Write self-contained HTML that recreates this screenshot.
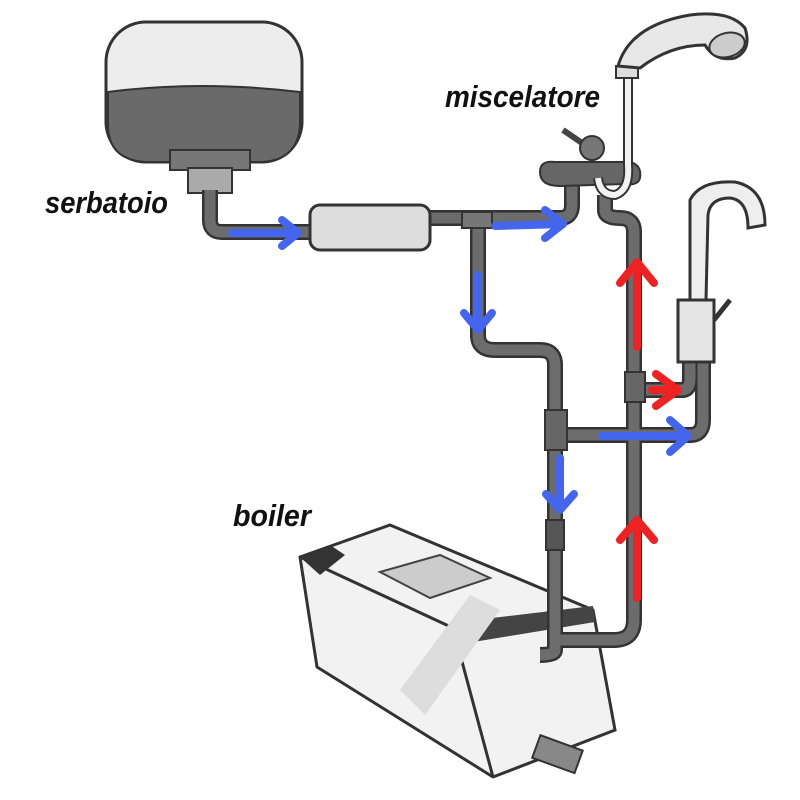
<!DOCTYPE html>
<html><head><style>
html,body{margin:0;padding:0;background:#fff;width:800px;height:800px;overflow:hidden}
.l{font-family:"Liberation Sans",sans-serif;font-style:italic;font-weight:bold;font-size:31px;fill:#111}
</style></head><body>
<svg width="800" height="800" viewBox="0 0 800 800" xmlns="http://www.w3.org/2000/svg">
<!-- tank -->
<rect x="106" y="22" width="196" height="140" rx="40" fill="#ededed" stroke="#333" stroke-width="3"/>
<path d="M108 92 Q200 80 300 92 L300 125 Q298 160 262 162 L146 162 Q108 160 108 125Z" fill="#6a6a6a" stroke="#333" stroke-width="2"/>
<rect x="170" y="150" width="80" height="20" fill="#777" stroke="#333" stroke-width="2"/>
<rect x="188" y="168" width="44" height="25" fill="#aaa" stroke="#333" stroke-width="2"/>
<!-- boiler -->
<path d="M300 557 L390 525 L593 610 L615 730 L493 777 L317 667Z" fill="#f2f2f2" stroke="#333" stroke-width="3"/>
<path d="M300 557 L453 628 L493 777 M453 628 L593 610" fill="none" stroke="#333" stroke-width="3"/>
<path d="M300 557 L330 545 L345 555 L320 575Z" fill="#333"/>
<path d="M450 623 L593 606 L595 622 L455 645Z" fill="#444"/>
<path d="M380 572 L440 555 L490 578 L430 598Z" fill="#ccc" stroke="#444" stroke-width="2"/>
<path d="M400 690 L470 595 L500 610 L425 715Z" fill="#ddd"/>
<rect x="535" y="742" width="45" height="24" fill="#888" stroke="#333" stroke-width="2" transform="rotate(20 557 754)"/>
<!-- pipes -->
<g fill="none" stroke="#333" stroke-width="16" stroke-linejoin="round" stroke-linecap="butt">
<path d="M210 190 L210 220 Q210 232 222 232 L312 232"/>
<path d="M430 218 L560 218 Q572 218 572 205 L572 180"/>
<path d="M478 218 L478 335 Q478 350 495 350 L540 350 Q555 350 555 365 L555 650 Q555 655 540 655"/>
<path d="M555 435 L690 435 Q703 435 703 420 L703 362"/>
<path d="M605 195 L605 210 Q605 218 620 218 Q634 218 634 232 L634 620 Q634 640 614 640 L560 640"/>
<path d="M634 390 L682 390 Q690 390 690 378 L690 360"/>
</g>
<g fill="none" stroke="#6c6c6c" stroke-width="11" stroke-linejoin="round">
<path d="M210 190 L210 220 Q210 232 222 232 L312 232"/>
<path d="M430 218 L560 218 Q572 218 572 205 L572 180"/>
<path d="M478 218 L478 335 Q478 350 495 350 L540 350 Q555 350 555 365 L555 650 Q555 655 540 655"/>
<path d="M555 435 L690 435 Q703 435 703 420 L703 362"/>
<path d="M605 195 L605 210 Q605 218 620 218 Q634 218 634 232 L634 620 Q634 640 614 640 L560 640"/>
<path d="M634 390 L682 390 Q690 390 690 378 L690 360"/>
</g>
<rect x="462" y="212" width="30" height="16" fill="#777" stroke="#333" stroke-width="2"/>
<rect x="545" y="410" width="22" height="40" fill="#666" stroke="#333" stroke-width="2"/>
<rect x="625" y="372" width="20" height="30" fill="#666" stroke="#333" stroke-width="2"/>
<rect x="546" y="520" width="18" height="30" fill="#555" stroke="#333" stroke-width="2"/>
<!-- filter -->
<rect x="310" y="205" width="120" height="45" rx="10" fill="#ddd" stroke="#333" stroke-width="3"/>
<!-- mixer -->
<path d="M563 130 L585 145" stroke="#444" stroke-width="6"/>
<circle cx="592" cy="148" r="12" fill="#777" stroke="#333" stroke-width="2"/>
<path d="M540 172 Q540 160 555 162 L630 162 Q642 165 640 178 Q638 186 625 184 L560 186 Q540 186 540 172Z" fill="#666" stroke="#333" stroke-width="2"/>
<path d="M598 178 Q600 195 615 195 Q630 190 628 165 L628 75" fill="none" stroke="#333" stroke-width="10"/>
<path d="M598 178 Q600 195 615 195 Q630 190 628 165 L628 75" fill="none" stroke="#f2f2f2" stroke-width="6"/>
<!-- shower -->
<rect x="616" y="66" width="22" height="12" fill="#ddd" stroke="#333" stroke-width="2"/>
<path d="M618 66 Q630 25 690 15 Q730 10 745 28 Q752 50 735 58 Q715 62 705 45 Q670 45 640 68Z" fill="#e8e8e8" stroke="#333" stroke-width="3"/>
<ellipse cx="727" cy="45" rx="18" ry="12" fill="#ccc" stroke="#333" stroke-width="2" transform="rotate(-15 727 45)"/>
<!-- kitchen faucet -->
<path d="M690 300 L690 200 Q700 180 735 182 Q765 188 765 225 L748 228 Q748 200 730 198 Q710 198 708 215 L706 300Z" fill="#eee" stroke="#333" stroke-width="3"/>
<rect x="678" y="300" width="36" height="62" fill="#e5e5e5" stroke="#333" stroke-width="3"/>
<path d="M714 320 L730 300" stroke="#333" stroke-width="5"/>
<!-- arrows -->
<g fill="none" stroke-linecap="round" stroke-linejoin="round" stroke-width="8">
<g stroke="#4466ee">
<path d="M232 233 L298 233 M282 220 L298 233 L282 246"/>
<path d="M495 226 L563 224 M545 210 L563 224 L545 238"/>
<path d="M478 275 L478 330 M464 313 L478 330 L492 313"/>
<path d="M602 436 L688 436 M670 420 L688 436 L670 452"/>
<path d="M560 458 L560 510 M546 494 L560 510 L574 494"/>
</g>
<g stroke="#ee2222">
<path d="M637 347 L637 262 M620 283 L637 262 L654 283"/>
<path d="M637 598 L637 520 M620 540 L637 520 L654 540"/>
<path d="M652 390 L678 390 M656 374 L678 390 L656 406"/>
</g>
</g>
<text class="l" x="45" y="213" textLength="123" lengthAdjust="spacingAndGlyphs">serbatoio</text>
<text class="l" x="445" y="107" textLength="155" lengthAdjust="spacingAndGlyphs">miscelatore</text>
<text class="l" x="233" y="526" textLength="78" lengthAdjust="spacingAndGlyphs">boiler</text>
</svg>
</body></html>
